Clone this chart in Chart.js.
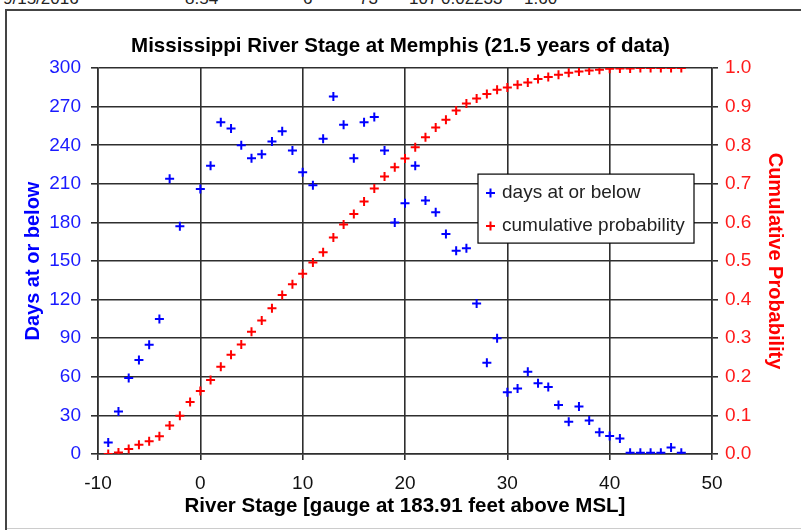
<!DOCTYPE html>
<html>
<head>
<meta charset="utf-8">
<script src="https://cdn.jsdelivr.net/npm/chart.js@4/dist/chart.umd.min.js"></script>
<style>
  html, body { margin: 0; padding: 0; background: #fff; overflow: hidden; }
  body { width: 801px; height: 530px; position: relative; font-family: "Liberation Sans", Arial, sans-serif; }
  .row span { position: absolute; top: -10px; font-size: 17px; line-height: 17px; color: #222; }
  .frame { position: absolute; left: 5px; top: 9px; width: 820px; height: 540px;
           border-left: 2px solid #444; border-top: 2px solid #444; background: #fff; }
  .foot { position: absolute; left: 7px; top: 528px; width: 794px; height: 1px; background: #ccc; }
  #wrap { position: absolute; left: 0; top: 0; width: 801px; height: 530px; }
</style>
</head>
<body>
<div class="row">
  <span style="left:3px">9/15/2016</span>
  <span style="left:185px">8.54</span>
  <span style="left:303px">6</span>
  <span style="left:359px">73</span>
  <span style="left:409px">107</span>
  <span style="left:441px">0.02233</span>
  <span style="left:524px">1.60</span>
</div>
<div class="frame"></div>
<div class="foot"></div>
<div id="wrap"><canvas id="chart"></canvas></div>
<script>
// river stage in feet, one point per foot
const stageFt = [-9, -8, -7, -6, -5, -4, -3, -2, -1, 0,
  1, 2, 3, 4, 5, 6, 7, 8, 9, 10,
  11, 12, 13, 14, 15, 16, 17, 18, 19, 20,
  21, 22, 23, 24, 25, 26, 27, 28, 29, 30,
  31, 32, 33, 34, 35, 36, 37, 38, 39, 40,
  41, 42, 43, 44, 45, 46, 47];

// blue series (left axis), no point at -1
const daysAtOrBelow = [9, 33, 59, 73, 85, 105, 214, 177, null, 206,
  224, 258, 253, 240, 230, 233, 243, 251, 236, 219,
  209, 245, 278, 256, 230, 258, 262, 236, 180, 195,
  224, 197, 188, 171, 158, 160, 117, 71, 90, 48,
  51, 64, 55, 52, 38, 25, 37, 26, 17, 14,
  12, 1, 1, 1, 1, 5, 1];

// red series (right axis)
const cumulativeProb = [0.0, 0.004, 0.013, 0.024, 0.033, 0.046, 0.074, 0.099, 0.135, 0.163,
  0.192, 0.226, 0.257, 0.284, 0.317, 0.346, 0.378, 0.412, 0.440, 0.467,
  0.496, 0.523, 0.561, 0.595, 0.622, 0.654, 0.688, 0.719, 0.743, 0.766,
  0.795, 0.821, 0.846, 0.866, 0.890, 0.908, 0.921, 0.933, 0.944, 0.950,
  0.957, 0.963, 0.972, 0.977, 0.983, 0.988, 0.991, 0.994, 0.996, 0.998,
  0.999, 0.999, 1.0, 1.0, 1.0, 1.0, 1.0];

const seriesNames = ['days at or below', 'cumulative probability'];
const seriesColors = ['#0000ff', '#ff0000'];

function toPoints(xs, ys) {
  const pts = [];
  for (let i = 0; i < xs.length; i++) {
    if (ys[i] !== null) pts.push({ x: xs[i], y: ys[i] });
  }
  return pts;
}

// legend box drawn inside the plot, like the excel one
const boxLegend = {
  id: 'boxLegend',
  afterDraw(chart) {
    const ctx = chart.ctx;
    const a = chart.chartArea;
    const x = a.left + 380, y = a.top + 106, w = 216, h = 69;
    ctx.save();
    ctx.fillStyle = '#fff';
    ctx.fillRect(x, y, w, h);
    ctx.strokeStyle = '#000';
    ctx.lineWidth = 1.2;
    ctx.strokeRect(x, y, w, h);
    ctx.font = '19px "Liberation Sans", Arial, sans-serif';
    ctx.textBaseline = 'middle';
    for (let i = 0; i < seriesNames.length; i++) {
      const cy = y + 19 + i * 33;
      ctx.strokeStyle = seriesColors[i];
      ctx.lineWidth = 2;
      ctx.beginPath();
      ctx.moveTo(x + 8, cy); ctx.lineTo(x + 17, cy);
      ctx.moveTo(x + 12.5, cy - 4.5); ctx.lineTo(x + 12.5, cy + 4.5);
      ctx.stroke();
      ctx.fillStyle = '#222';
      ctx.fillText(seriesNames[i], x + 24, cy);
    }
    ctx.restore();
  }
};

function showGraph(element_id) {
  const gridColor = '#2e2e2e';
  const config = {
    type: 'scatter',
    data: {
      datasets: [{
        label: seriesNames[0],
        data: toPoints(stageFt, daysAtOrBelow),
        yAxisID: 'y',
        pointStyle: 'cross',
        pointRadius: 4.5,
        borderWidth: 2,
        borderColor: seriesColors[0],
        backgroundColor: seriesColors[0]
      }, {
        label: seriesNames[1],
        data: toPoints(stageFt, cumulativeProb),
        yAxisID: 'y1',
        pointStyle: 'cross',
        pointRadius: 4.5,
        borderWidth: 2,
        borderColor: seriesColors[1],
        backgroundColor: seriesColors[1]
      }]
    },
    options: {
      responsive: true,
      maintainAspectRatio: false,
      animation: false,
      layout: { padding: 0 },
      plugins: {
        legend: { display: false },
        tooltip: { enabled: false },
        title: {
          display: true,
          text: 'Mississippi River Stage at Memphis (21.5 years of data)',
          color: '#000',
          font: { size: 20.5, weight: 'bold' },
          padding: { top: 34, bottom: 9.5 }
        }
      },
      scales: {
        x: {
          type: 'linear',
          min: -10, max: 50,
          afterFit: (s) => { s.height = 76; },
          ticks: { stepSize: 10, color: '#111', font: { size: 19 }, padding: 12 },
          grid: { color: gridColor, lineWidth: 1.6, tickLength: 6, tickColor: gridColor },
          border: { color: gridColor, width: 1.6 },
          title: {
            display: true,
            text: 'River Stage [gauge at 183.91 feet above MSL]',
            color: '#000',
            font: { size: 20.5, weight: 'bold' },
            padding: { top: 0, bottom: 11.5 }
          }
        },
        y: {
          position: 'left',
          min: 0, max: 300,
          afterFit: (s) => { s.width = 98; },
          ticks: { stepSize: 30, color: '#1a1aff', font: { size: 19 }, padding: 10 },
          grid: { color: gridColor, lineWidth: 1.6, tickLength: 7, tickColor: gridColor },
          border: { color: gridColor, width: 1.6 },
          title: {
            display: true,
            text: 'Days at or below',
            color: '#0000ff',
            font: { size: 20, weight: 'bold' },
            padding: { top: 21, bottom: 0 }
          }
        },
        y1: {
          position: 'right',
          min: 0, max: 1,
          afterFit: (s) => { s.width = 89; },
          ticks: { stepSize: 0.1, color: '#ff1a1a', font: { size: 19 }, padding: 7,
                   callback: (v) => v.toFixed(1) },
          grid: { drawOnChartArea: false, color: gridColor, lineWidth: 1.6, tickLength: 6, tickColor: gridColor },
          border: { color: gridColor, width: 1.6 },
          title: {
            display: true,
            text: 'Cumulative Probability',
            color: '#ff0000',
            font: { size: 20, weight: 'bold' },
            padding: { top: 14, bottom: 0 }
          }
        }
      }
    },
    plugins: [boxLegend]
  };
  return new Chart(document.getElementById(element_id), config);
}

Chart.defaults.font.family = '"Liberation Sans", Arial, sans-serif';
window.addEventListener('load', () => {
  showGraph('chart');
});
</script>
</body>
</html>
